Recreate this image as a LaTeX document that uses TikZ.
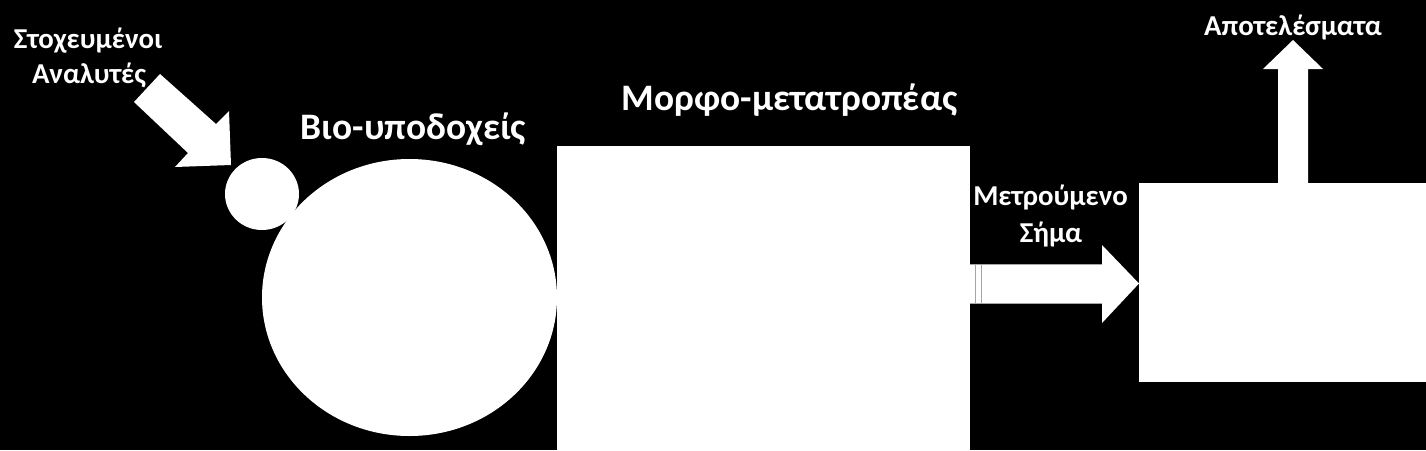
\documentclass[tikz,border=0pt]{standalone}
\usepackage{fontspec}
\setmainfont{Carlito}
\begin{document}
\begin{tikzpicture}[x=1pt,y=-1pt,
  shapefill/.style={fill=white,draw=none},
  smalllbl/.style={text=white,font=\bfseries\fontsize{28.8}{32}\selectfont,anchor=base,inner sep=0pt},
  biglbl/.style={text=white,font=\bfseries\fontsize{37.4}{42}\selectfont,anchor=base,inner sep=0pt},
  stripe/.style={draw=gray!70,line width=0.8pt}]
\fill[black] (0,0) rectangle (1426,450);
\useasboundingbox (0,0) rectangle (1426,450);
% shapes
\path[shapefill] (262,194) ellipse [x radius=37, y radius=36];
\path[shapefill] (409.5,297.5) ellipse [x radius=147.5, y radius=138.5];
\path[shapefill] (557,146) rectangle (970,450);
\path[shapefill] (1139,183) rectangle (1426,382);
% diagonal arrow
\path[shapefill] (160,74) -- (216,124) -- (229,111) -- (231,165) -- (175,167) -- (188,153) -- (134,102) -- cycle;
% right (striped) arrow
\path[shapefill] (970,264) -- (1102,264) -- (1102,245) -- (1139,283.5) -- (1102,323) -- (1102,303) -- (970,303) -- cycle;
\draw[stripe] (970,264) -- (1102,264);
\draw[stripe] (970,303) -- (1102,303);
\draw[stripe] (975,264) -- (975,303);
\draw[stripe] (981,264) -- (981,303);
% up arrow
\path[shapefill] (1278,183) -- (1278,69) -- (1263,69) -- (1293,40) -- (1323,69) -- (1308,69) -- (1308,183) -- cycle;
% labels
\node[smalllbl] (t1) at (88,48) {Στοχευμένοι};
\node[smalllbl] (t2) at (89,83) {Αναλυτές};
\node[biglbl] (bio) at (413.5,139) {Βιο-υποδοχείς};
\node[biglbl] (morf) at (789.5,110) {Μορφο-μετατροπέας};
\node[smalllbl] (metr) at (1050.5,205) {Μετρούμενο};
\node[smalllbl] (sima) at (1051,242) {Σήμα};
\node[smalllbl] (apot) at (1293,35) {Αποτελέσματα};
\end{tikzpicture}
\end{document}
